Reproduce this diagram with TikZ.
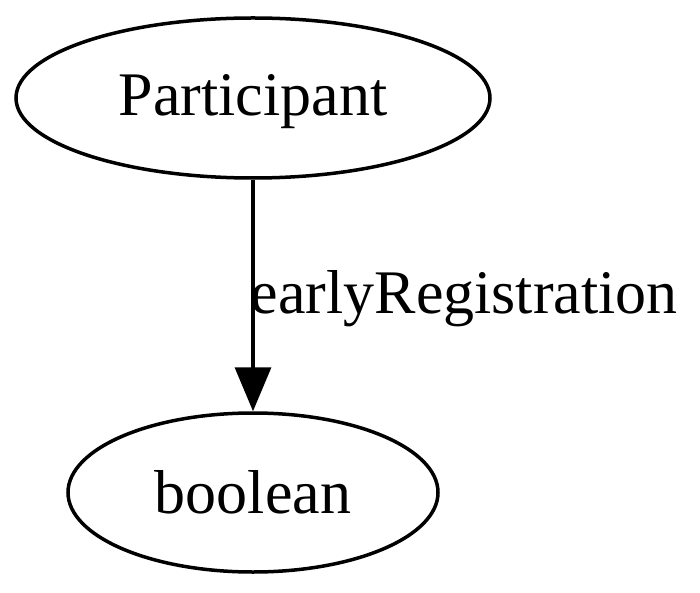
\documentclass[tikz,border=0pt]{standalone}
\usepackage{fontspec}
\setmainfont{Liberation Serif}
\usetikzlibrary{shapes.geometric,arrows.meta}
\begin{document}
\begin{tikzpicture}[x=1pt,y=1pt,
  ell/.style={draw,line width=3.5pt,ellipse,inner sep=0pt,font=\fontsize{62}{62}\selectfont},
  conn/.style={line width=3.5pt,-{Triangle[length=44pt,width=36pt]}},
  lbl/.style={font=\fontsize{62}{62}\selectfont,inner sep=0pt}]
\useasboundingbox (0,0) rectangle (700,-593);
\node[ell,minimum width=474pt,minimum height=160pt] (p) at (253,-98) {};
\node[font=\fontsize{62}{62}\selectfont,inner sep=0pt] (pt) at (253,-102) {Participant};
\node[ell,minimum width=370pt,minimum height=159pt] (b) at (253,-492.5) {boolean};
\draw[conn] (p) -- (b) node[lbl,midway,anchor=west,xshift=-4pt,yshift=-3pt] {earlyRegistration};
\end{tikzpicture}
\end{document}
